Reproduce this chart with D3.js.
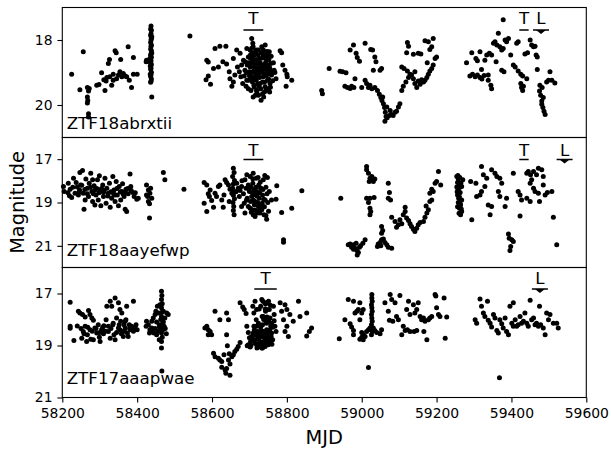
<!DOCTYPE html>
<html><head><meta charset="utf-8">
<script src="https://cdn.jsdelivr.net/npm/d3@7"></script>
<style>body{margin:0;background:#fff}svg{display:block}</style>
</head><body>
<svg id="chart" width="611" height="449"></svg>
<script>
// Light curves of three ZTF sources: MJD vs magnitude
const xTicks = [58200, 58400, 58600, 58800, 59000, 59200, 59400, 59600];
const names = ["ZTF18abrxtii", "ZTF18aayefwp", "ZTF17aaapwae"];
const yDomains = [[17, 21], [16, 22], [16, 21]];
const yTicks = [[18, 20], [17, 19, 21], [17, 19, 21]];
// "T" observing windows (MJD start, end) and "L" epochs per source
const tSpans = [[[58684, 58737], [59421, 59446]], [[58684, 58737], [59421, 59446]], [[58713, 58773]]];
const lMarks = [59479, 59542, 59476];

const lc1 = [
[58225,19.05],[58256,18.36],[58247,19.53],[58267,19.46],[58272,19.49],[58270,19.57],[58267,19.75],[58268,19.86],[58267,19.94],[58270,20.27],[58270,20.37],
[58298,19.37],[58305,19.01],[58311,19.22],[58317,19.26],[58319,19.15],[58314,19.55],[58323,18.72],[58326,18.6],[58332,19.39],[58336,19.24],[58341,18.33],[58344,18.39],
[58345,19.19],[58350,19.08],[58354,18.98],[58356,18.6],[58359,19.13],[58363,19.03],[58368,19.11],[58372,19.13],[58376,18.21],[58379,19.24],[58385,19.46],[58390,18.54],
[58390,19.05],[58400,19.05],[58336,19.05],[58327,19.13],[58292,19.39],
[58437,17.57],[58436,17.66],[58438,17.7],[58437,17.81],[58436,17.86],[58438,17.95],[58437,18.0],[58436,18.08],[58438,18.15],[58437,18.19],[58436,18.28],[58438,18.33],
[58437,18.42],[58436,18.47],[58438,18.53],[58437,18.64],[58436,18.7],[58438,18.75],[58437,18.86],[58436,18.9],[58438,18.99],[58437,19.06],[58436,19.12],[58438,19.2],
[58437,19.27],[58436,19.3],[58439,19.75],[58425,18.62],[58430,18.65],[58424,18.67],[58434,18.57],[58439,18.4],[58435,18.8],[58439,17.9],[58435,19.05],
[58541,17.88],
[58584,19.22],[58590,19.11],[58596,19.36],[58586,18.62],[58590,18.68],[58608,18.26],[58621,18.19],[58637,18.19],[58604,18.88],[58617,18.83],[58629,18.67],[58639,18.74],
[58646,18.98],[58648,19.19],[58653,19.42],[58657,19.29],[58661,19.08],[58657,18.57],[58666,18.31],[58668,18.83],[58675,18.41],[58677,19.13],[58682,19.34],[58684,18.62],
[58688,18.93],[58693,18.26],[58693,19.24],[58697,18.52],[58697,19.5],[58702,18.83],[58702,18.31],[58706,17.95],[58709,18.1],[58706,19.13],[58710,18.62],[58710,19.75],
[58712,19.39],[58715,18.41],[58715,18.93],[58718,19.24],[58719,18.72],[58719,19.55],[58724,18.31],[58724,19.08],[58728,18.57],[58728,19.34],[58733,18.83],[58733,18.21],
[58735,19.65],[58737,18.46],[58737,19.13],[58742,18.15],[58742,19.44],[58744,18.88],[58746,18.62],[58748,19.24],[58750,19.03],[58755,19.34],[58753,18.36],[58759,19.08],
[58766,18.93],[58771,19.19],[58782,18.33],[58786,18.39],[58789,18.77],[58795,18.93],[58800,19.05],[58801,19.13],[58798,19.42],[58813,19.24],
[58688,18.67],[58694,18.77],[58700,18.98],[58703,18.57],[58708,19.29],[58713,18.83],[58717,19.08],[58721,18.88],[58726,18.72],[58731,18.98],[58735,19.29],[58739,18.77],
[58743,19.03],[58749,18.77],[58751,19.5],[58757,18.72],[58673,18.98],[58679,18.77],[58686,19.11],[58691,19.42],[58698,19.24],[58704,19.55],[58716,19.7],[58726,19.44],
[58740,19.6],[58746,18.41],[58719,18.31],[58710,18.21],[58707,18.41],[58737,18.31],
[58703,18.45],[58705,18.7],[58707,19.0],[58709,19.2],[58711,18.5],[58713,19.45],[58714,18.75],[58716,18.35],[58718,19.0],[58720,18.6],[58722,19.35],[58723,18.45],
[58725,18.85],[58727,19.15],[58729,18.7],[58730,19.5],[58732,18.4],[58734,19.0],[58736,18.55],[58738,18.9],[58740,19.3],[58741,18.5],[58743,18.7],[58745,19.1],
[58747,18.35],[58749,18.95],[58751,19.2],[58752,18.6],[58754,18.85],[58756,19.45],[58758,18.5],[58760,18.95],[58762,19.25],[58711,18.95],[58720,19.6],[58728,18.95],
[58734,18.4],[58744,19.55],[58706,18.25],[58750,18.5],[58716,19.15],[58738,19.75],[58724,19.7],[58700,19.1],[58696,18.7],[58692,19.0],[58731,19.85],[58754,19.6],
[58764,18.7],[58768,19.0],
[58893,19.55],[58895,19.65],[58913,18.88],[58942,18.96],[58949,18.98],[58958,19.01],[58969,18.31],[58978,18.15],[58985,18.41],[58988,18.54],[58994,18.65],[58982,19.19],
[58955,19.42],[58962,19.46],[58969,19.49],[58973,19.42],[58979,19.46],[59000,19.46],[59009,18.1],[59024,18.29],[59029,18.31],[59035,18.52],[59038,18.67],[59049,18.93],
[59053,18.88],[59031,18.93],[59009,19.24],[59013,19.34],[59022,19.39],[59027,19.5],[59018,19.46],
[59035,19.46],[59042,19.55],[59047,19.67],[59051,19.77],[59054,19.86],[59058,19.96],[59061,20.08],[59063,20.22],[59065,20.35],[59062,20.5],[59068,20.39],[59074,20.32],
[59079,20.29],[59084,20.32],[59089,20.22],[59093,20.19],[59098,20.06],[59102,19.96],[59056,19.75],[59067,20.06],[59076,20.17],
[59107,19.55],[59111,19.42],[59118,19.29],[59125,19.15],[59129,19.05],[59138,19.19],[59142,19.34],[59147,19.46],[59151,19.26],[59156,19.36],[59160,19.22],[59165,19.29],
[59169,19.24],[59174,19.15],[59178,19.05],[59182,18.95],[59187,18.88],[59191,18.77],[59196,18.57],[59200,18.52],
[59122,18.08],[59125,18.19],[59120,18.39],[59138,18.44],[59151,18.41],[59158,18.43],[59169,18.02],[59178,18.05],[59187,18.21],[59191,17.95],[59182,18.29],[59175,18.7],
[59107,18.83],[59113,18.88],[59122,18.95],[59133,19.08],[59142,18.98],
[59280,18.7],[59294,18.39],[59305,18.57],[59309,18.64],[59316,18.36],[59289,19.11],[59296,19.05],[59303,19.13],[59309,19.08],[59316,19.15],[59321,19.2],[59327,19.09],
[59320,18.91],[59329,18.62],[59334,18.46],[59341,18.41],[59347,18.46],[59338,19.08],[59338,19.24],[59345,19.39],[59347,19.5],[59352,18.1],[59356,18.05],[59361,18.15],
[59365,17.79],[59369,18.21],[59374,18.31],[59378,18.26],[59378,17.38],[59383,18.0],[59387,18.05],[59392,17.95],[59359,18.67],[59374,18.93],[59380,18.98],[59398,18.46],
[59405,18.77],[59410,18.83],[59414,18.1],[59418,18.05],[59418,18.95],[59425,19.05],[59430,19.11],[59425,19.34],[59427,19.46],[59432,19.42],[59430,19.55],[59441,19.19],
[59436,18.43],[59443,18.39],[59450,18.0],[59454,18.15],[59459,18.21],[59463,18.19],[59466,18.46],[59469,18.52],[59469,18.91],[59503,18.98],[59494,19.29],[59499,19.24],
[59508,19.24],[59516,19.32],[59476,19.39],[59482,19.46],[59475,19.57],[59478,19.7],[59485,19.77],[59481,19.88],[59481,19.98],[59484,20.08],[59487,20.19],[59490,20.29]
];

const lc2 = [
[58203,18.26],[58205,18.49],[58216,18.11],[58221,18.39],[58219,18.69],[58225,18.77],[58230,17.88],[58237,18.08],[58240,18.29],[58246,18.42],[58247,17.62],[58254,17.52],
[58249,18.19],[58256,18.57],[58258,19.31],[58263,17.92],[58267,18.34],[58270,18.72],[58272,18.11],[58276,17.65],[58279,18.49],[58281,18.95],[58285,18.23],[58287,19.11],
[58290,18.65],[58294,17.95],[58296,18.88],[58299,17.77],[58301,18.42],[58303,19.15],[58308,18.19],[58310,18.72],[58314,17.88],[58317,19.03],[58319,18.34],[58323,18.57],
[58326,18.11],[58328,19.22],[58332,18.8],[58335,17.8],[58338,18.42],[58341,18.95],[58344,18.03],[58347,18.65],[58350,19.15],[58352,18.26],[58356,18.88],[58359,18.49],
[58361,18.14],[58365,18.72],[58368,19.31],[58370,18.39],[58372,19.42],[58376,18.6],[58381,17.68],[58383,18.26],[58388,18.54],[58392,18.72],[58399,18.85],[58403,18.8],
[58261,18.88],[58287,18.42],[58341,18.65],[58310,18.54],[58267,18.6],[58243,18.65],[58234,18.57],[58281,17.95],
[58215,18.55],[58228,18.3],[58245,18.5],[58252,18.2],[58260,18.4],[58275,18.3],[58283,18.6],[58292,18.35],[58298,18.55],[58305,18.35],[58312,18.45],[58322,18.7],
[58330,18.5],[58337,18.6],[58346,18.35],[58355,18.5],[58362,18.6],[58369,18.55],[58375,18.35],[58384,18.45],[58395,18.55],
[58425,18.19],[58430,18.42],[58434,18.57],[58428,18.72],[58425,18.65],[58430,18.95],[58433,19.06],[58436,18.34],[58439,18.8],[58433,19.72],[58470,17.62],[58474,17.95],
[58525,18.39],
[58579,18.08],[58586,18.19],[58579,19.03],[58586,19.42],[58590,18.6],[58595,18.42],[58593,18.72],[58599,18.91],[58604,19.22],[58608,18.57],[58612,18.72],[58617,18.26],
[58621,18.19],[58626,18.88],[58630,19.22],[58632,18.65],[58635,17.95],[58639,18.08],[58644,18.19],[58646,18.95],[58648,18.39],[58653,18.57],
[58657,17.42],[58659,17.62],[58655,17.8],[58660,17.99],[58657,18.15],[58655,18.34],[58659,18.49],[58657,18.66],[58660,18.83],[58656,19.0],[58658,19.19],[58657,19.37],
[58659,19.57],[58666,18.11],[58670,18.34],[58673,18.72],[58675,18.45],[58679,18.26],[58684,18.6],[58686,19.03],[58688,17.95],[58691,18.34],[58693,17.72],[58694,18.8],
[58697,18.19],[58697,19.19],[58700,18.49],[58702,17.8],[58703,18.95],[58706,18.72],[58707,19.34],[58709,18.11],[58710,17.65],[58712,18.42],[58715,18.95],[58716,18.65],
[58718,17.88],[58719,18.49],[58721,19.49],[58724,19.19],[58725,18.19],[58726,18.8],[58728,19.49],[58730,18.34],[58733,19.34],[58734,19.03],[58735,18.65],[58737,17.95],
[58739,19.57],[58742,18.88],[58746,19.77],[58753,18.49],[58759,18.88],[58771,18.85],[58773,18.23],[58786,19.46],[58791,20.72],[58791,20.83],[58813,19.26],[58840,18.46],
[58679,19.19],[58688,19.49],[58710,19.57],[58719,19.42],[58702,19.26],[58715,19.65],
[58704,18.3],[58708,18.55],[58711,18.9],[58713,19.1],[58717,18.3],[58720,18.7],[58722,19.0],[58727,18.55],[58729,18.05],[58731,19.15],[58736,18.4],[58738,18.85],
[58740,19.2],[58744,18.3],[58747,18.6],[58749,19.0],[58751,19.4],[58705,19.45],[58723,17.85],[58741,17.75],[58709,17.9],[58731,18.35],[58715,19.35],[58744,19.6],
[58727,19.35],[58748,17.85],[58698,18.35],[58692,18.9],[58680,18.0],[58664,18.5],
[58944,18.8],[59013,17.34],[59013,17.49],[59018,17.65],[59022,17.88],[59027,17.95],[59031,18.03],[59020,18.03],[59027,17.8],[59035,17.92],[59071,18.11],[59074,18.54],
[59071,18.8],[59077,18.88],[59013,18.8],[59022,18.8],[59033,18.77],[59018,19.0],[59022,19.26],[59024,19.42],[59022,19.57],[59053,20.11],[59056,20.29],[59053,20.42],
[58964,20.95],[58969,20.91],[58973,21.06],[58978,20.95],[58982,21.11],[58987,21.22],[58988,21.42],[58991,21.31],[58994,21.06],[58997,21.0],[59003,20.88],[59009,20.72],
[58985,20.88],[58978,21.16],
[59042,21.03],[59044,20.91],[59049,20.85],[59053,20.72],[59058,20.69],[59062,20.85],[59067,20.95],[59071,21.06],[59080,21.11],[59051,21.0],
[59080,19.68],[59089,19.88],[59093,20.14],[59098,20.03],[59102,19.8],[59107,19.98],[59111,19.57],[59116,19.42],[59116,19.22],[59120,19.72],[59125,19.83],[59129,19.98],
[59133,20.11],[59138,20.23],[59142,20.34],[59147,20.19],[59151,20.03],[59156,19.92],[59165,19.88],[59169,19.68],[59174,19.49],[59178,19.34],[59172,19.16],[59182,18.95],
[59187,18.88],[59182,18.57],[59187,18.39],[59191,18.49],[59196,18.11],[59200,18.03],[59211,18.19],[59205,17.57],
[59254,17.8],[59258,17.92],[59256,18.08],[59261,18.19],[59254,18.29],[59258,18.42],[59263,18.54],[59256,18.65],[59261,18.75],[59267,18.88],[59258,19.0],[59264,19.11],
[59261,19.26],[59267,19.42],[59264,19.57],[59270,17.95],[59267,18.26],
[59257,18.35],[59260,18.6],[59262,18.3],[59259,18.8],[59263,19.05],[59256,19.2],[59260,19.5],[59265,18.1],[59257,17.75],[59262,17.85],[59266,19.3],[59255,18.5],
[59294,19.8],[59291,18.03],[59305,18.11],[59320,17.34],[59325,17.72],[59334,17.88],[59329,18.26],[59320,18.49],[59307,18.72],[59316,18.65],[59347,17.49],[59356,17.65],
[59361,17.8],[59369,17.88],[59374,18.11],[59365,18.49],[59369,18.72],[59338,19.11],[59343,19.57],[59347,19.19],[59387,18.8],[59383,19.19],[59405,17.65],[59418,18.49],
[59423,18.65],[59427,18.88],[59423,19.62],
[59441,17.65],[59445,17.57],[59451,17.72],[59459,17.57],[59467,17.72],[59472,17.42],[59481,17.49],[59485,17.8],[59454,17.95],[59450,18.11],[59459,18.34],[59463,18.49],
[59472,18.57],[59475,18.95],[59450,18.95],[59441,18.8],[59490,18.65],[59496,18.54],[59508,18.49],[59485,18.19],
[59392,20.45],[59394,20.65],[59401,20.72],[59405,20.8],[59398,21.03],[59396,21.22],[59512,19.68],[59521,20.95]
];

const lc3 = [
[58221,17.34],[58221,18.26],[58221,18.34],[58231,18.81],[58243,17.68],[58247,17.75],[58254,17.81],[58261,17.9],[58270,17.65],[58274,17.81],[58279,17.94],[58283,18.03],
[58252,18.72],[58265,18.85],[58256,18.46],[58261,18.26],[58267,18.59],[58274,18.39],[58276,18.76],[58283,18.78],[58287,18.33],[58292,18.52],[58296,18.2],[58299,18.68],
[58301,18.85],[58305,18.39],[58310,18.55],[58311,18.24],[58317,18.01],[58319,17.49],[58323,18.46],[58328,17.3],[58328,18.72],[58332,17.49],[58335,18.2],[58338,18.59],
[58341,17.17],[58341,18.78],[58345,17.94],[58350,17.36],[58350,18.33],[58354,17.62],[58356,18.07],[58359,17.75],[58361,18.46],[58363,18.65],[58365,18.2],[58368,18.33],
[58370,18.01],[58372,17.49],[58374,18.52],[58376,18.65],[58379,18.2],[58383,18.39],[58385,18.26],[58390,17.3],[58394,18.33],[58400,18.39],[58336,18.14],[58323,18.26],
[58354,18.39],[58368,18.07],
[58240,18.25],[58250,18.35],[58258,18.55],[58268,18.3],[58280,18.45],[58290,18.35],[58300,18.5],[58308,18.3],[58315,18.45],[58330,18.35],[58345,18.5],[58352,18.2],
[58358,18.55],[58366,18.45],[58380,18.35],[58390,18.45],[58397,18.2],
[58425,18.07],[58430,18.2],[58424,18.26],[58434,18.39],[58439,18.33],[58443,17.94],[58445,18.52],[58448,17.81],[58450,17.68],[58452,18.59],[58454,17.49],[58457,17.75],
[58459,18.2],[58461,17.43],[58433,18.52],[58439,18.07],
[58440,18.45],[58448,18.35],[58452,18.1],[58456,18.45],[58460,18.3],[58463,18.0],[58468,18.4],[58470,18.1],[58475,18.35],[58478,18.55],
[58465,16.91],[58466,17.08],[58465,17.23],[58467,17.39],[58465,17.55],[58466,17.72],[58465,17.88],[58467,18.03],[58465,18.2],[58466,18.37],[58465,18.52],[58467,18.68],
[58465,18.85],[58465,19.1],[58466,19.98],[58470,17.68],[58474,17.94],[58479,17.75],[58483,17.81],[58472,18.26],[58459,18.78],
[58581,18.33],[58586,18.26],[58590,18.39],[58595,18.46],[58599,18.59],[58590,18.59],[58608,17.68],[58621,18.01],[58639,17.75],[58644,18.01],[58639,18.59],[58641,19.01],
[58604,19.3],[58608,19.43],[58617,19.49],[58621,19.56],[58626,19.62],[58626,19.84],[58635,19.94],[58639,19.88],[58648,19.71],[58644,19.56],[58653,19.43],[58657,19.36],
[58661,19.23],[58666,19.14],[58670,19.04],[58675,18.88],[58637,20.07],[58648,20.14],[58632,19.36],[58646,19.32],
[58675,17.36],[58682,17.52],[58686,17.62],[58691,17.77],[58693,18.26],[58697,18.97],[58702,19.06],[58694,19.01],
[58709,17.49],[58712,17.75],[58715,17.3],[58718,18.01],[58719,18.26],[58721,18.46],[58724,18.72],[58726,18.91],[58728,19.04],[58730,17.49],[58733,17.23],[58734,17.88],
[58735,18.2],[58737,18.59],[58739,18.85],[58741,17.36],[58743,17.68],[58744,18.07],[58746,18.39],[58748,18.72],[58750,18.97],[58751,17.3],[58753,17.62],[58755,17.94],
[58757,18.26],[58759,18.52],[58762,18.78],[58764,17.49],[58766,17.81],[58768,18.26],[58771,18.46],[58710,18.52],[58715,18.78],[58719,18.97],[58712,18.26],[58733,19.1],
[58742,19.04],[58724,18.14],[58737,17.88],[58746,18.14],[58750,18.65],[58728,18.46],[58759,18.14],[58719,17.62],[58746,17.62],[58755,18.85],[58706,18.65],[58703,18.85],
[58730,18.3],[58732,18.65],[58734,18.9],[58736,18.45],[58738,18.0],[58740,18.7],[58742,17.6],[58744,18.55],[58745,18.85],[58747,17.9],[58749,18.5],[58751,18.05],
[58752,18.8],[58754,18.4],[58756,17.45],[58758,18.65],[58760,18.95],[58722,18.75],[58725,19.05],[58727,18.6],[58729,18.85],[58731,19.05],[58717,18.6],[58714,18.9],
[58720,19.1],[58735,19.1],[58739,19.0],[58743,17.4],[58748,17.35],[58736,17.3],[58726,17.6],[58762,18.3],[58766,18.05],[58713,18.4],[58708,18.75],[58704,19.0],
[58700,18.7],[58697,18.5],
[58782,17.36],[58795,17.43],[58800,17.62],[58786,17.68],[58808,17.81],[58791,18.01],[58800,18.26],[58795,18.46],[58804,18.65],[58817,18.07],[58831,17.3],[58835,17.88],
[58853,17.75],[58853,18.63],[58860,18.46],[58866,18.33],
[58940,18.74],[58955,18.01],[58964,17.23],[58969,18.16],[58973,18.29],[58978,17.3],[58978,18.42],[58982,17.75],[58987,17.68],[58991,17.62],[58995,17.36],[59000,17.75],
[59004,17.62],[58995,18.01],[58978,18.59],[58995,18.76],[59000,18.68],[59004,18.59],[59009,18.65],[59013,18.46],[59018,18.39],[59022,18.33],[59031,18.33],[59035,18.42],
[59040,18.5],[59049,18.55],[59053,18.39],[59000,18.5],[59004,18.78],
[59027,17.04],[59027,17.17],[59028,17.3],[59026,17.43],[59027,17.55],[59028,17.68],[59026,17.81],[59027,17.94],[59028,18.07],[59026,18.2],[59027,18.33],[59028,18.46],
[59026,18.59],[59018,19.85],
[59062,17.36],[59076,17.04],[59080,17.23],[59089,17.36],[59102,17.08],[59071,17.68],[59074,18.03],[59083,18.07],[59093,17.88],[59098,18.01],[59111,18.26],[59116,18.42],
[59107,18.59],[59120,17.62],[59125,17.3],[59129,17.81],[59138,17.43],[59142,17.75],[59147,17.62],[59151,17.36],[59156,17.88],[59160,18.01],[59165,17.94],[59169,18.07],
[59174,18.78],[59178,18.01],[59182,17.94],[59187,17.88],[59196,17.04],[59198,17.1],[59200,17.55],[59205,17.81],[59209,17.88],[59220,17.17],[59227,17.9],[59223,18.72],
[59147,18.42],[59140,18.46],[59129,18.46],[59166,18.46],[59122,18.39],
[59303,18.01],[59307,18.14],[59316,17.21],[59320,17.49],[59325,17.75],[59329,17.88],[59336,17.3],[59338,18.03],[59343,18.14],[59347,18.29],[59352,17.81],[59356,17.94],
[59361,18.42],[59365,18.52],[59369,18.01],[59374,18.16],[59378,18.33],[59383,17.94],[59387,18.46],[59392,18.59],[59396,17.49],[59401,18.14],[59405,17.36],[59410,18.01],
[59414,18.26],[59418,18.2],[59423,17.88],[59427,18.14],[59432,18.07],[59436,17.75],[59441,18.14],[59445,18.26],[59450,17.26],[59454,18.01],[59459,17.94],[59463,18.2],
[59467,18.14],[59472,18.26],[59475,17.49],[59478,18.2],[59485,18.33],[59490,18.59],[59494,17.75],[59499,18.01],[59503,17.81],[59512,18.14],[59521,18.14],[59525,18.33],
[59405,18.26],[59368,20.24]
];

const curves = [lc1, lc2, lc3];

const font = "DejaVu Sans, Verdana, sans-serif";
const svg = d3.select("#chart");
const left = 62.3, right = 586.3;
const tops = [7.5, 137.5, 267.5], ph = 130;
const textBase = [16.5, 18, 16];   // "T"/"L" label baselines below panel top
const barOff = [22.5, 22, 21.5];   // window bar offsets below panel top
const nameBase = [128.9, 255.5, 383.9];

const x = d3.scaleLinear().domain([58200, 59600]).range([left, right]);

curves.forEach((data, i) => {
  const top = tops[i];
  const y = d3.scaleLinear().domain(yDomains[i]).range([top, top + ph]);
  const g = svg.append("g");

  g.append("g").selectAll("circle").data(data).join("circle")
    .attr("cx", d => x(d[0])).attr("cy", d => y(d[1]))
    .attr("r", 2.5).attr("fill", "#000");

  // frame
  g.append("rect").attr("x", left).attr("y", top)
    .attr("width", right - left).attr("height", ph)
    .attr("fill", "none").attr("stroke", "#000").attr("stroke-width", 1.1);

  // y axis
  const ay = g.append("g").attr("transform", `translate(${left},0)`)
    .call(d3.axisLeft(y).tickValues(yTicks[i]).tickSize(4.9).tickPadding(4.9).tickFormat(d3.format("d")));
  ay.select(".domain").remove();
  ay.selectAll("line").attr("stroke", "#000").attr("stroke-width", 1.1);
  ay.selectAll("text").attr("font-family", font).attr("font-size", 13.9).attr("fill", "#000");

  // source name
  g.append("text").attr("x", 66.7).attr("y", nameBase[i])
    .attr("font-family", font).attr("font-size", 16.7).attr("fill", "#000").text(names[i]);

  // T windows
  tSpans[i].forEach(s => {
    const cx = (x(s[0]) + x(s[1])) / 2;
    g.append("line").attr("x1", x(s[0])).attr("x2", x(s[1]))
      .attr("y1", top + barOff[i]).attr("y2", top + barOff[i])
      .attr("stroke", "#000").attr("stroke-width", 1.5);
    g.append("text").attr("x", cx).attr("y", top + textBase[i]).attr("text-anchor", "middle")
      .attr("font-family", font).attr("font-size", 16.7).attr("fill", "#000").text("T");
  });

  // L epoch
  const lx = x(lMarks[i]), ly = top + barOff[i];
  g.append("line").attr("x1", lx - 8).attr("x2", lx + 8).attr("y1", ly).attr("y2", ly)
    .attr("stroke", "#000").attr("stroke-width", 1.5);
  g.append("path").attr("d", `M${lx - 5},${ly} L${lx + 5},${ly} L${lx},${ly + 4} Z`).attr("fill", "#000");
  g.append("text").attr("x", lx).attr("y", top + textBase[i]).attr("text-anchor", "middle")
    .attr("font-family", font).attr("font-size", 16.7).attr("fill", "#000").text("L");
});

// shared x axis
const bottom = tops[2] + ph;
const ax = svg.append("g").attr("transform", `translate(0,${bottom})`)
  .call(d3.axisBottom(x).tickValues(xTicks).tickSize(4.9).tickPadding(5.5).tickFormat(d3.format("d")));
ax.select(".domain").remove();
ax.selectAll("line").attr("stroke", "#000").attr("stroke-width", 1.1);
ax.selectAll("text").attr("font-family", font).attr("font-size", 13.9).attr("fill", "#000");

svg.append("text").attr("x", (left + right) / 2).attr("y", 444).attr("text-anchor", "middle")
  .attr("font-family", font).attr("font-size", 19.4).attr("fill", "#000").text("MJD");
svg.append("text").attr("transform", `translate(24,${(tops[0] + bottom) / 2}) rotate(-90)`)
  .attr("text-anchor", "middle").attr("font-family", font).attr("font-size", 19.4)
  .attr("fill", "#000").text("Magnitude");
</script>
</body></html>
